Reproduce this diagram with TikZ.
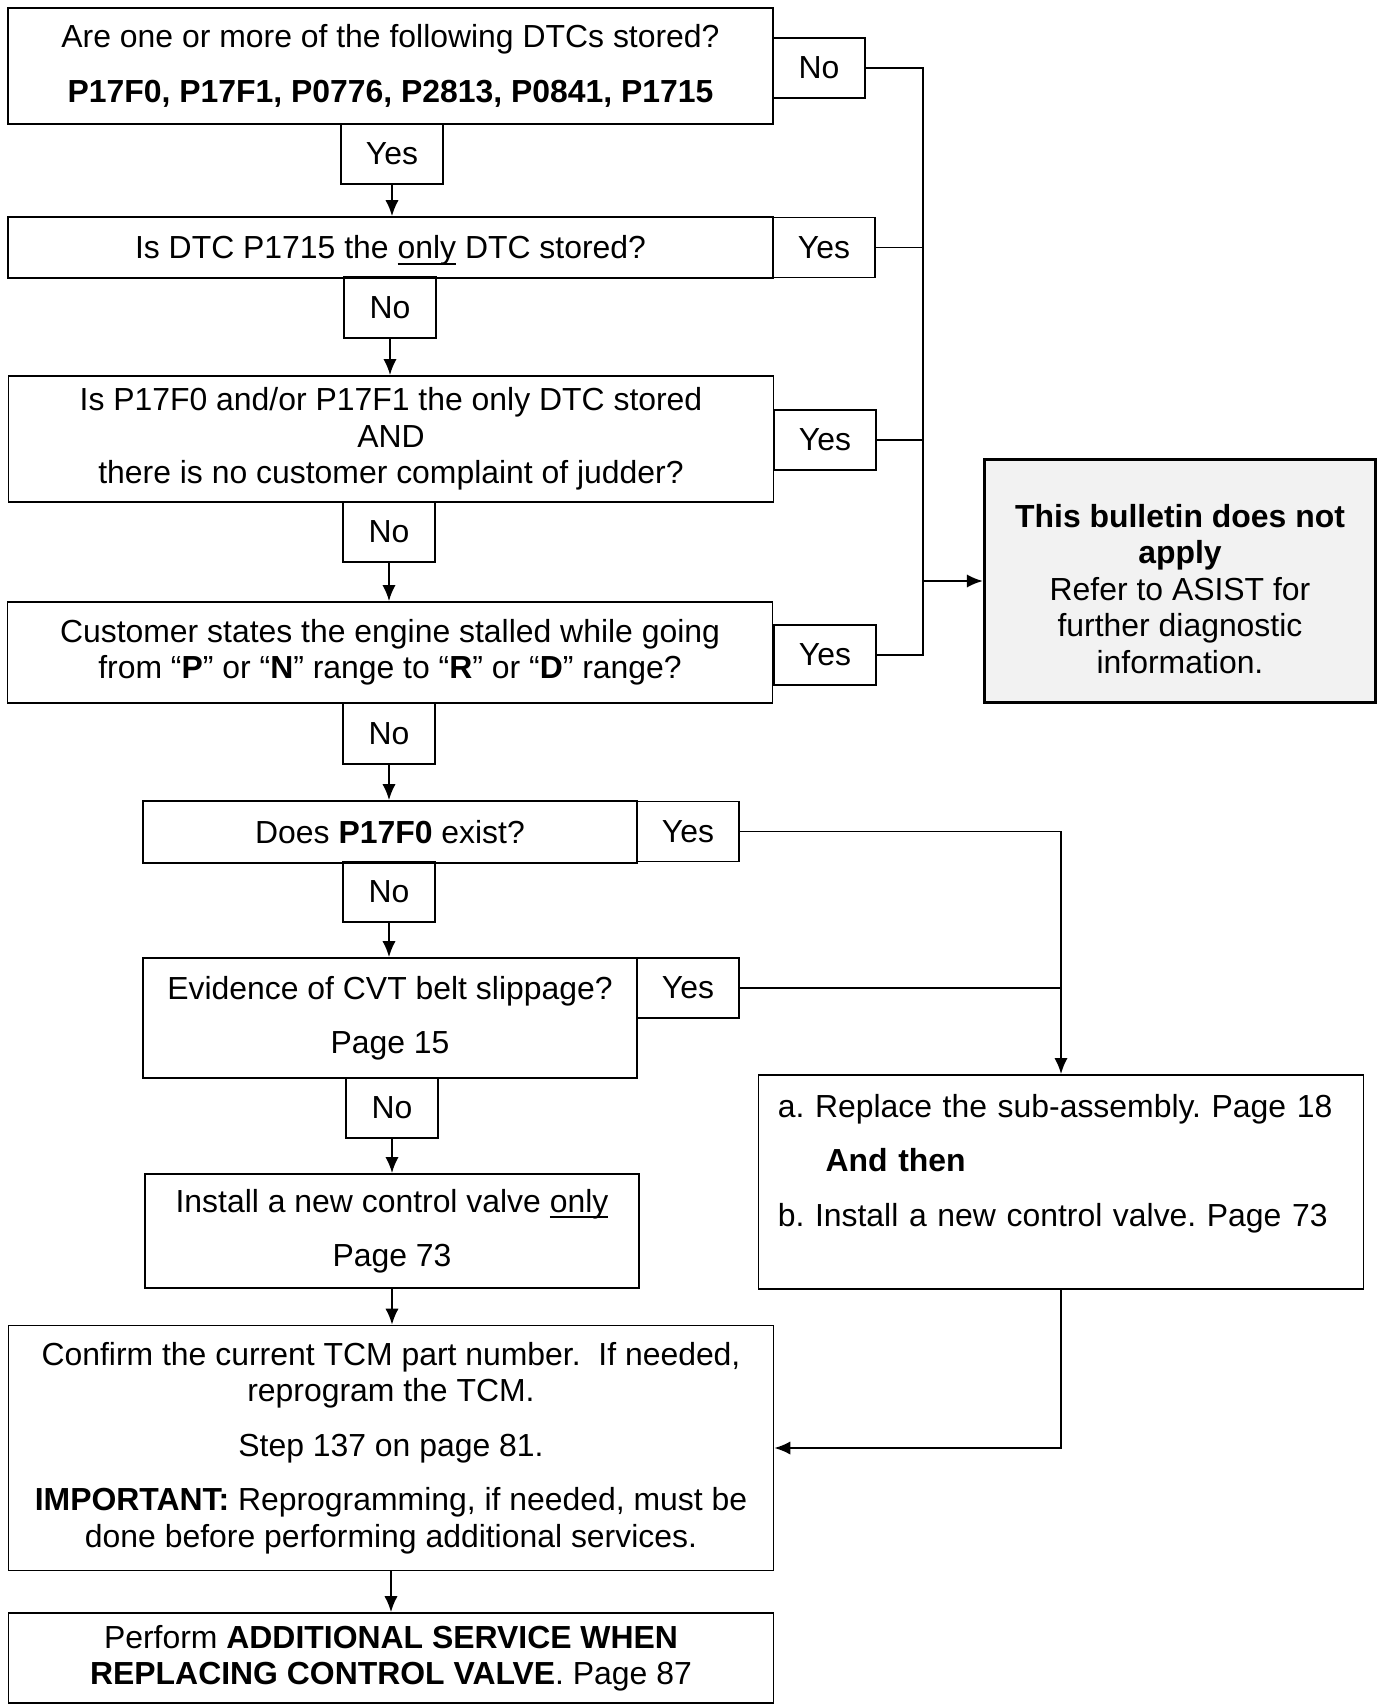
\documentclass[tikz,border=0pt]{standalone}
\usepackage{fontspec}
\setmainfont{Liberation Sans}
\usetikzlibrary{arrows.meta}
\definecolor{resultGray}{RGB}{242,242,242}
\newsavebox{\ulbox}
\newcommand{\ulword}[1]{\sbox{\ulbox}{#1}\smash{\rlap{\rule[-2.2pt]{\wd\ulbox}{0.75pt}}\usebox{\ulbox}}}
\tikzstyle{baseBox}=[draw,rectangle,line width=0.7pt,inner sep=3pt,align=center,font=\fontsize{12}{13.7}\selectfont\frenchspacing]
\tikzstyle{wideBox}=[baseBox,minimum width=287.6pt]
\tikzstyle{midBox}=[baseBox,minimum width=185.6pt]
\tikzstyle{answer}=[baseBox,minimum width=38.4pt,minimum height=22.6pt]
\tikzstyle{answerNo}=[baseBox,minimum width=34.6pt,minimum height=22.8pt]
\tikzstyle{link}=[line width=0.7pt]
\tikzstyle{flow}=[link,-{Latex[length=6pt,width=5pt]}]

\begin{document}
\begin{tikzpicture}[x=0.376pt,y=-0.376pt]

    \useasboundingbox (0,0) rectangle (1378,1704);

    % questions down the left side
    \node[wideBox,minimum height=43.6pt] (q1) at (390.5, 66) {Are one or more of the following DTCs stored?\\[6.8pt]\textbf{P17F0, P17F1, P0776, P2813, P0841, P1715}};
    \node[answerNo] (n1) at (819, 68) {No};
    \node[answer] (y1) at (392, 154) {Yes};

    \node[wideBox,minimum height=22.9pt] (q2) at (390.5, 247.5) {Is DTC P1715 the \ulword{only} DTC stored?};
    \node[answer] (y2) at (824, 247.5) {Yes};
    \node[answerNo] (n2) at (390, 307.5) {No};

    \node[wideBox,minimum height=47.4pt] (q3) at (391, 439) {Is P17F0 and/or P17F1 the only DTC stored\\AND\\there is no customer complaint of judder?};
    \node[answer] (y3) at (825, 440) {Yes};
    \node[answerNo] (n3) at (389, 532) {No};

    \node[wideBox,minimum height=38pt] (q4) at (390, 652.5) {Customer states the engine stalled while going\\from “\textbf{P}” or “\textbf{N}” range to “\textbf{R}” or “\textbf{D}” range?};
    \node[answer] (y4) at (825, 655) {Yes};
    \node[answerNo] (n4) at (389, 733.5) {No};

    \node[midBox,minimum height=23.3pt] (q5) at (390, 832) {Does \textbf{P17F0} exist?};
    \node[answer] (y5) at (688, 831.5) {Yes};
    \node[answerNo] (n5) at (389, 892) {No};

    \node[midBox,minimum height=45.1pt] (q6) at (390, 1018) {Evidence of CVT belt slippage?\\[6.8pt]Page 15};
    \node[answer] (y6) at (688, 988) {Yes};
    \node[answerNo] (n6) at (392, 1108) {No};

    % actions
    \node[midBox,minimum height=42.9pt] (act1) at (392, 1231) {Install a new control valve \ulword{only}\\[6.8pt]Page 73};
    \node[baseBox,minimum width=227.5pt,minimum height=80.5pt,text width=213pt,align=left] (act2) at (1061, 1182) {a. Replace the sub-assembly. Page 18\\[6.8pt]\hspace*{18pt}\textbf{And then}\\[6.8pt]b. Install a new control valve. Page 73\\[2.8pt]\mbox{}};
    \node[baseBox,line width=1.3pt,fill=resultGray,minimum width=147pt,minimum height=91.4pt] (res) at (1180, 581) {\rule{0pt}{14.5pt}\textbf{This bulletin does not}\\\textbf{apply}\\Refer to ASIST for\\further diagnostic\\information.};

    \node[wideBox,minimum height=92.1pt] (conf) at (391, 1448) {Confirm the current TCM part number.\ \ If needed,\\reprogram the TCM.\\[6.8pt]Step 137 on page 81.\\[6.8pt]\textbf{IMPORTANT:} Reprogramming, if needed, must be\\done before performing additional services.};
    \node[wideBox,minimum height=33.8pt] (final) at (391, 1658) {Perform \textbf{ADDITIONAL SERVICE WHEN}\\\textbf{REPLACING CONTROL VALVE}. Page 87};

    \coordinate (busTop) at (923, 68);

    \draw[flow] (y1.south) -- (y1.south |- q2.north);
    \draw[flow] (n2.south) -- (n2.south |- q3.north);
    \draw[flow] (n3.south) -- (n3.south |- q4.north);
    \draw[flow] (n4.south) -- (n4.south |- q5.north);
    \draw[flow] (n5.south) -- (n5.south |- q6.north);
    \draw[flow] (n6.south) -- (n6.south |- act1.north);
    \draw[flow] (act1.south) -- (act1.south |- conf.north);
    \draw[flow] (conf.south) -- (final.north);

    \draw[link] (n1.east) -- (busTop) -- (busTop |- y4.east) -- (y4.east);
    \draw[link] (y2.east) -- (y2.east -| busTop);
    \draw[link] (y3.east) -- (y3.east -| busTop);
    \draw[flow] (res.west -| busTop) -- (res.west);

    \draw[flow] (y5.east) -| (act2.north);
    \draw[link] (y6.east) -- (y6.east -| act2.north);
    \draw[flow] (act2.south) |- (conf.east);

\end{tikzpicture}
\end{document}
